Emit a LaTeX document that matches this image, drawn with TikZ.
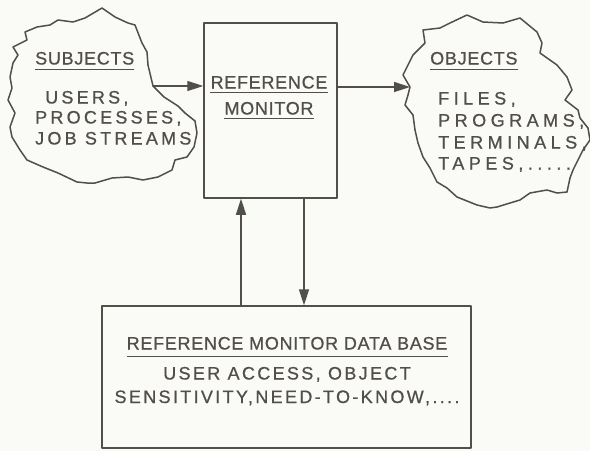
\documentclass[tikz,border=0pt]{standalone}
\usepackage{fontspec}
\setmainfont{Liberation Sans}
\newfontfamily\headfont[LetterSpace=4,FakeBold=0.7]{Liberation Sans}
\newfontfamily\itemfont[LetterSpace=18,FakeBold=0.7]{Liberation Sans}
\newfontfamily\wideitemfont[LetterSpace=25,FakeBold=0.7]{Liberation Sans}
\newfontfamily\basefont[LetterSpace=13,FakeBold=0.7]{Liberation Sans}
\usetikzlibrary{arrows.meta}
\definecolor{ink}{RGB}{82,78,74}
\definecolor{paper}{RGB}{250,250,246}

\begin{document}
\begin{tikzpicture}[x=1pt,y=-1pt,
    outline/.style={draw=ink, line width=1.5pt, line join=round},
    arr/.style={draw=ink, line width=1.5pt, -{Triangle[length=16pt,width=10pt]}},
    uline/.style={draw=ink, line width=1.3pt},
    lbl/.style={text=ink, inner sep=0pt, anchor=west, text height=13pt, text depth=0pt},
    head/.style={lbl, font=\headfont\fontsize{18}{20}\selectfont},
    item/.style={lbl, font=\itemfont\fontsize{18}{20}\selectfont},
    wideitem/.style={lbl, font=\wideitemfont\fontsize{18}{20}\selectfont},
    dbtext/.style={lbl, anchor=center, font=\basefont\fontsize{18}{20}\selectfont}]
    % page
    \fill[paper] (0,0) rectangle (590,451);
    \useasboundingbox (0,0) rectangle (590,451);

    % subjects cloud
    \draw[outline] (102,8) -- (115,17) -- (128,23) -- (135,25) -- (142,43) -- (147,52)
        -- (148,65) -- (153,86) -- (164,97) -- (178,106) -- (185,113) -- (195,121)
        -- (197,133) -- (194,147) -- (187,157) -- (175,160) -- (172,170) -- (158,177)
        -- (143,180) -- (128,177) -- (112,178) -- (95,183) -- (87,183) -- (77,182)
        -- (58,173) -- (43,167) -- (27,160) -- (20,150) -- (12,137) -- (10,127)
        -- (15,113) -- (8,100) -- (12,88) -- (10,77) -- (13,63) -- (18,55) -- (13,47)
        -- (27,40) -- (25,32) -- (37,27) -- (50,25) -- (58,20) -- (73,22) -- (85,18) -- cycle;
    \coordinate (subjout) at (153,86);

    % objects cloud
    \draw[outline] (423,30) -- (440,28) -- (450,23) -- (467,15) -- (483,22) -- (503,23)
        -- (520,18) -- (537,32) -- (542,43) -- (540,53) -- (557,65) -- (567,77)
        -- (572,90) -- (565,100) -- (578,110) -- (580,118) -- (588,128) -- (590,140)
        -- (583,150) -- (578,160) -- (573,170) -- (570,178) -- (567,192) -- (557,193)
        -- (547,190) -- (530,193) -- (520,200) -- (510,203) -- (497,207) -- (490,208)
        -- (477,205) -- (457,197) -- (447,188) -- (437,182) -- (430,168) -- (423,157)
        -- (418,143) -- (415,130) -- (413,115) -- (405,105) -- (408,95) -- (410,87)
        -- (403,75) -- (407,67) -- (413,55) -- (425,43) -- cycle;
    \coordinate (objin) at (410,87);

    % boxes
    \node[outline, minimum width=133pt, minimum height=175pt] (rm) at (270.5,110.5) {};
    \node[outline, minimum width=369pt, minimum height=142pt] (db) at (286.5,377) {};

    % subjects text
    \node[head] (subjhd) at (35,58) {SUBJECTS};
    \draw[uline] ([yshift=-5pt]subjhd.south west) -- ([yshift=-5pt]subjhd.south east);
    \node[item] (users) at (45,97) {USERS,};
    \node[item] (procs) at (35,117) {PROCESSES,};
    \node[item] (jobs) at (35,138) {JOB STREAMS};

    % objects text
    \node[head] (objhd) at (430,58) {OBJECTS};
    \draw[uline] ([yshift=-5pt]objhd.south west) -- ([yshift=-5pt]objhd.south east);
    \node[wideitem] (files) at (438,98) {FILES,};
    \node[wideitem] (progs) at (438,120) {PROGRAMS,};
    \node[wideitem] (terms) at (438,142) {TERMINALS,};
    \node[wideitem] (tapes) at (438,163) {TAPES,.....};

    % monitor text
    \node[head, anchor=center] (rmhd1) at (269,82) {REFERENCE};
    \draw[uline] ([yshift=-4pt]rmhd1.south west) -- ([yshift=-4pt]rmhd1.south east);
    \node[head, anchor=center] (rmhd2) at (269,108) {MONITOR};
    \draw[uline] ([yshift=-4pt]rmhd2.south west) -- ([yshift=-4pt]rmhd2.south east);

    % data base text
    \node[dbtext, font=\headfont\fontsize{18}{20}\selectfont] (dbhd) at (287,343) {REFERENCE MONITOR DATA BASE};
    \draw[uline] ([yshift=-7pt]dbhd.south west) -- ([yshift=-7pt]dbhd.south east);
    \node[dbtext] (dbl1) at (287,373) {USER ACCESS, OBJECT};
    \node[dbtext] (dbl2) at (287,396.5) {SENSITIVITY,NEED-TO-KNOW,....};

    % connectors
    \coordinate (upx) at (241,250);
    \coordinate (dnx) at (304,250);
    \draw[arr] (subjout) -- (subjout -| rm.west);
    \draw[arr] (rm.east |- objin) -- (objin);
    \draw[arr] (db.north -| upx) -- (rm.south -| upx);
    \draw[arr] (rm.south -| dnx) -- (db.north -| dnx);
\end{tikzpicture}
\end{document}
